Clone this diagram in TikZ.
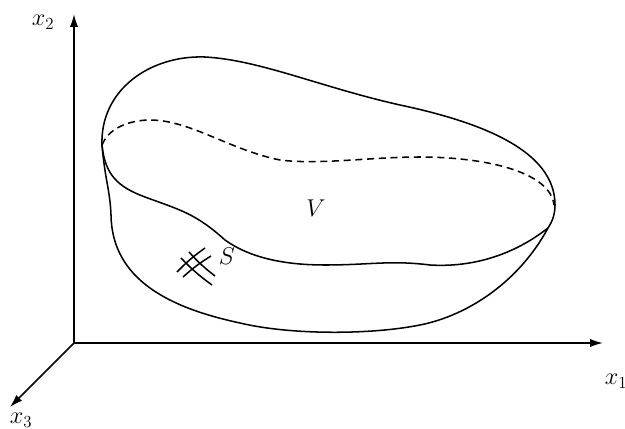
\documentclass[tikz,border=0pt]{standalone}
\usepackage{amsmath}
\usetikzlibrary{arrows.meta}
\begin{document}
\begin{tikzpicture}[x=0.03cm,y=-0.03cm]
\tikzstyle{axis}=[line width=1.3pt,-{Latex[length=11pt,width=7pt]}]
\tikzstyle{curve}=[line width=1.3pt]
\tikzstyle{lab}=[inner sep=0pt,font=\huge]
\useasboundingbox (0,0) rectangle (625,429);
\coordinate (O) at (74,343);
\coordinate (X1) at (603,343);
\coordinate (X2) at (74,14);
\coordinate (X3) at (10,407);
\draw[axis] (O) -- (X1);
\draw[axis] (O) -- (X2);
\draw[axis] (O) -- (X3);
\node[lab] (x1) at (616,381) {$x_1$};
\node[lab] (x2) at (43,22) {$x_2$};
\node[lab] (x3) at (21,420) {$x_3$};
% outer surface
\draw[curve] (102,145) .. controls (100,90) and (150,55) .. (205,57)
  .. controls (260,60) and (320,87) .. (400,105)
  .. controls (480,122) and (555,150) .. (555,205)
  .. controls (555,215) and (552,222) .. (548,228);
\draw[curve] (548,228) .. controls (520,280) and (470,315) .. (420,325)
  .. controls (370,335) and (290,335) .. (240,323)
  .. controls (170,308) and (112,280) .. (111,215)
  .. controls (110,190) and (105,180) .. (102,145);
% front edge
\draw[curve] (102,145) .. controls (105,175) and (118,187) .. (145,197)
  .. controls (180,210) and (195,213) .. (225,240)
  .. controls (250,258) and (285,265) .. (325,265)
  .. controls (370,265) and (390,260) .. (430,265)
  .. controls (480,268) and (520,250) .. (548,228);
% back edge
\draw[curve,dash pattern=on 6pt off 4pt] (102,145) .. controls (110,125) and (135,120) .. (150,120)
  .. controls (190,120) and (230,150) .. (280,160)
  .. controls (320,165) and (370,157) .. (420,157)
  .. controls (480,157) and (550,170) .. (554,205);
% small grid on S
\draw[curve] (177,272) to[bend left=5] (205,248);
\draw[curve] (183,277) to[bend left=5] (211,256);
\draw[curve] (189,252) to[bend right=5] (215,276);
\draw[curve] (181,258) to[bend right=5] (212,285);
\node[lab] (S) at (227,256) {$S$};
\node[lab] (V) at (316,208) {$V$};
\end{tikzpicture}
\end{document}
